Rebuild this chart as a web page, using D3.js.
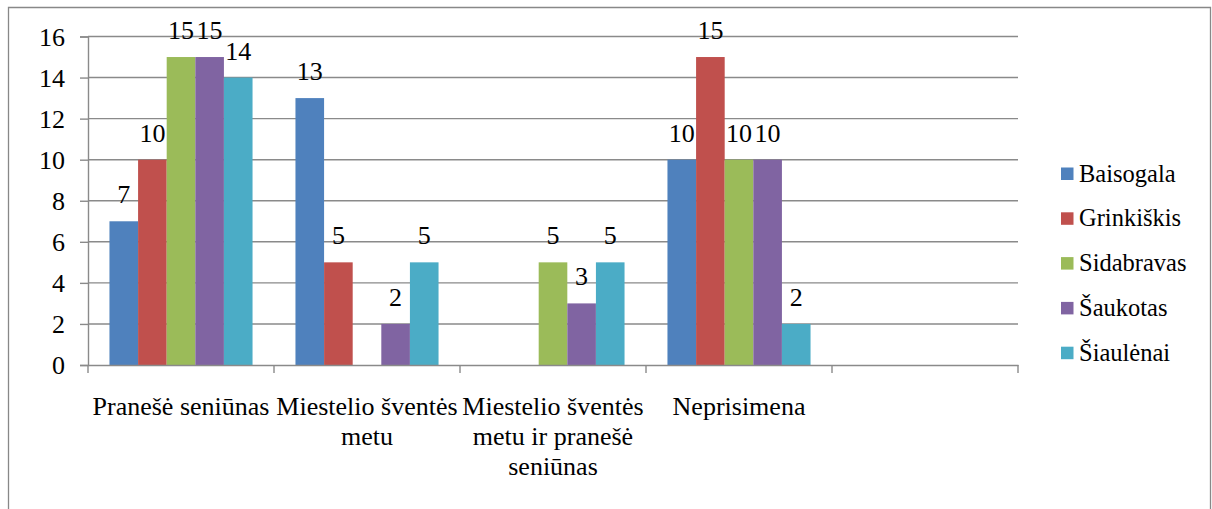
<!DOCTYPE html>
<html>
<head>
<meta charset="utf-8">
<script src="https://cdn.jsdelivr.net/npm/d3@7"></script>
<style>
  text { font-family: 'Liberation Serif', serif !important; }
</style>
</head>
<body style="margin:0">
<svg id="chart" width="1212" height="509"></svg>
<script>
const categories = [
  "Pranešė seniūnas",
  "Miestelio šventės\nmetu",
  "Miestelio šventės\nmetu ir pranešė\nseniūnas",
  "Neprisimena",
  ""
];
const seriesNames = ["Baisogala", "Grinkiškis", "Sidabravas", "Šaukotas", "Šiaulėnai"];
const seriesColors = ["#4F81BD", "#C0504D", "#9BBB59", "#8064A2", "#4BACC6"];
const baisogala  = [7, 13, null, 10, null];
const grinkiskis = [10, 5, null, 15, null];
const sidabravas = [15, null, 5, 10, null];
const saukotas   = [15, 2, 3, 10, null];
const siaulenai  = [14, 5, 5, 2, null];
const seriesValues = [baisogala, grinkiskis, sidabravas, saukotas, siaulenai];
const yTicks = [0, 2, 4, 6, 8, 10, 12, 14, 16];

const svg = d3.select("#chart");
const plot = { left: 88, right: 1018, top: 36.5, bottom: 365 };
const TXT = "font-family: 'Liberation Serif', serif;";

// outer frame
svg.append("path")
  .attr("d", "M8.5,520 V7.5 H1210.5 V520")
  .attr("fill", "none").attr("stroke", "#888").attr("stroke-width", 1.3);

const x = d3.scaleBand().domain(categories).range([plot.left, plot.right]).paddingInner(0).paddingOuter(0);
const innerPad = 0.75 / 6.5;
const xs = d3.scaleBand().domain(seriesNames).range([x.bandwidth() * innerPad, x.bandwidth() * (1 - innerPad)]).padding(0);
const y = d3.scaleLinear().domain([0, 16]).range([plot.bottom, plot.top]);

// gridlines
svg.append("g").selectAll("line").data(yTicks.filter(t => t > 0)).join("line")
  .attr("x1", plot.left).attr("x2", plot.right)
  .attr("y1", d => y(d)).attr("y2", d => y(d))
  .attr("stroke", "#8a8a8a").attr("stroke-width", 1.4);

// y axis
const yAxis = d3.axisLeft(y).tickValues(yTicks).tickSize(8).tickFormat("");
const gy = svg.append("g").attr("transform", `translate(${plot.left},0)`).call(yAxis);
gy.attr("font-family", null);
gy.select(".domain").attr("stroke", "#8a8a8a").attr("stroke-width", 1.4);
gy.selectAll(".tick line").attr("stroke", "#8a8a8a").attr("stroke-width", 1.4);
gy.selectAll(".tick text").remove();
svg.selectAll("text.ylab").data(yTicks).join("text")
  .attr("class", "ylab")
  .attr("x", plot.left - 23).attr("y", d => y(d) + 9)
  .attr("text-anchor", "end").attr("font-size", 26).attr("fill", "#000")
  .attr("font-family", "Liberation Serif").attr("style", TXT)
  .text(d => d);

// bars
const groups = svg.append("g").selectAll("g").data(categories).join("g")
  .attr("transform", d => `translate(${x(d)},0)`);
seriesNames.forEach((s, si) => {
  groups.each(function(c, ci) {
    const v = seriesValues[si][ci];
    if (v == null) return;
    const g = d3.select(this);
    g.append("rect")
      .attr("x", xs(s)).attr("width", xs.bandwidth())
      .attr("y", y(v)).attr("height", y(0) - y(v))
      .attr("fill", seriesColors[si]);
    g.append("text")
      .attr("x", xs(s) + xs.bandwidth() / 2).attr("y", y(v) - 18)
      .attr("text-anchor", "middle").attr("font-size", 26).attr("fill", "#000")
      .attr("font-family", "Liberation Serif").attr("style", TXT)
      .text(v);
  });
});

// x axis
const xAxis = d3.axisBottom(x).tickSize(0).tickFormat("");
const gx = svg.append("g").attr("transform", `translate(0,${plot.bottom})`).call(xAxis);
gx.attr("font-family", null);
gx.select(".domain").attr("stroke", "#8a8a8a").attr("stroke-width", 1.4);
gx.selectAll(".tick text").remove();
const bounds = categories.map(c => x(c)).concat([x(categories[categories.length - 1]) + x.bandwidth()]);
gx.append("g").selectAll("line").data(bounds).join("line")
  .attr("x1", d => d).attr("x2", d => d).attr("y1", 0).attr("y2", 8)
  .attr("stroke", "#8a8a8a").attr("stroke-width", 1.4);
// category labels
categories.forEach(c => {
  const lines = c.split("\n");
  const t = svg.append("text")
    .attr("text-anchor", "middle").attr("font-size", 26).attr("fill", "#000")
    .attr("font-family", "Liberation Serif").attr("style", TXT);
  lines.forEach((ln, i) => {
    t.append("tspan").attr("x", x(c) + x.bandwidth() / 2).attr("y", 415 + i * 30).text(ln);
  });
});

// legend
const legend = svg.append("g").selectAll("g").data(seriesNames).join("g")
  .attr("transform", (d, i) => `translate(1061,${174 + i * 44.8})`);
legend.append("rect").attr("x", 0).attr("y", -6.5).attr("width", 12.5).attr("height", 12.5)
  .attr("fill", (d, i) => seriesColors[i]);
legend.append("text").attr("x", 18).attr("y", 7.5).attr("font-size", 24.5).attr("fill", "#000")
  .attr("font-family", "Liberation Serif").attr("style", TXT)
  .text(d => d);
</script>
</body>
</html>
